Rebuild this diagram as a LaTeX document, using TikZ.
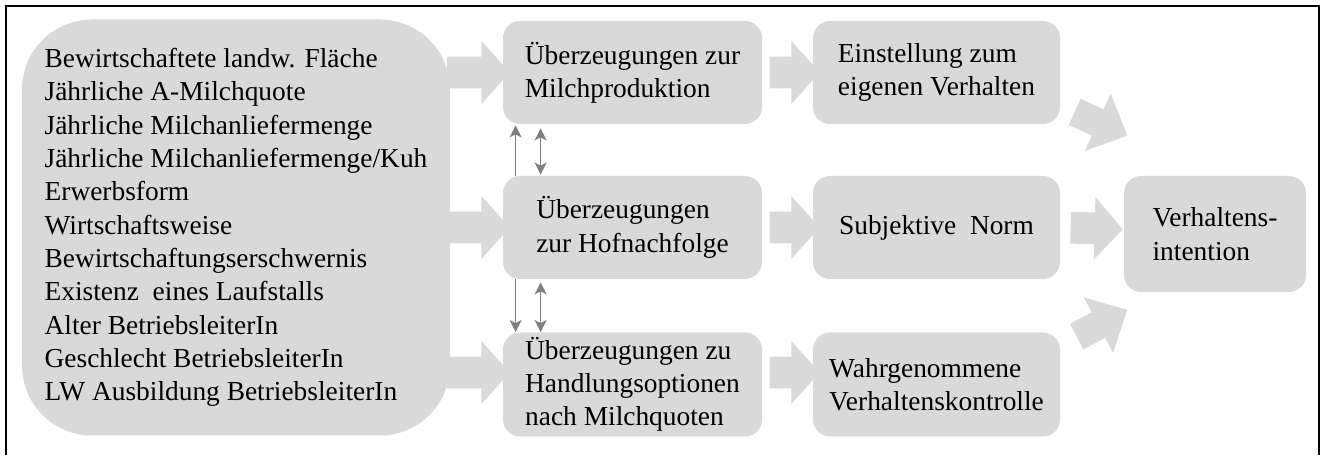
\documentclass[tikz,border=0pt]{standalone}
\usepackage{fontspec}
\setmainfont{Liberation Serif}
\usetikzlibrary{arrows.meta,shapes.arrows,calc}
\definecolor{boxgray}{HTML}{D9D9D9}
\definecolor{linkgray}{HTML}{808080}
\tikzset{
  box/.style={fill=boxgray, rounded corners=8.5pt, align=left, inner sep=0pt},
  lowered/.style={execute at begin node={\rule{0pt}{16pt}}},
  blockarrow/.style={shape=single arrow, fill=boxgray, inner xsep=0pt, inner ysep=7.75pt,
    minimum width=31pt, single arrow head extend=7.75pt, single arrow tip angle=96},
  fat/.style={to path={let \p1=(\tikztostart), \p2=(\tikztotarget),
    \n1={atan2(\y2-\y1,\x2-\x1)}, \n2={veclen(\x2-\x1,\y2-\y1)} in
    node[blockarrow, rotate=\n1, minimum height=\n2, #1] at ($(\p1)!0.5!(\p2)$) {}}},
  fat/.default={},
  link/.style={draw=linkgray, line width=0.75pt, -{Stealth[length=6pt,width=6pt,inset=1.5pt]}},
  twoway/.style={link, {Stealth[length=6pt,width=6pt,inset=1.5pt]}-{Stealth[length=6pt,width=6pt,inset=1.5pt]}}
}
\begin{document}
\begin{tikzpicture}[x=1pt, y=1pt, font=\fontsize{13.7}{16.65}\selectfont]
    \useasboundingbox (0,0) rectangle (661,227.5);
    \draw[line width=1pt] (3,0) -- (3,224.5) -- (659.5,224.5) -- (659.5,0);
    \node (m1) [box, lowered, minimum width=129.5pt, minimum height=51.5pt] at (316.25,191.25) {Überzeugungen zur\\Milchproduktion};
    \node (m2) [box, lowered, minimum width=129.5pt, minimum height=51.5pt, node distance=77.5pt, below of=m1] {Überzeugungen\\zur Hofnachfolge};
    \node (m3) [box, minimum width=129.5pt, minimum height=52pt, node distance=78.5pt, below of=m2] {Überzeugungen zu\\Handlungsoptionen\\nach Milchquoten};
    \node (r1) [box, lowered, minimum width=123.5pt, minimum height=51.5pt, node distance=152pt, right of=m1] {Einstellung zum\\eigenen Verhalten};
    \node (r2) [box, minimum width=123.5pt, minimum height=51.5pt, node distance=152pt, right of=m2] {Subjektive~~Norm};
    \node (r3) [box, lowered, minimum width=123.5pt, minimum height=52pt, node distance=152pt, right of=m3] {Wahrgenommene\\Verhaltenskontrolle};
    \node (f) [box, minimum width=91pt, minimum height=58pt, node distance=139.25pt, right of=r2, yshift=-3.25pt] {Verhaltens-\\intention};
    \node (big) [box, rounded corners=35pt, minimum width=214pt, minimum height=208pt, node distance=198.25pt, left of=m2] {Bewirtschaftete landw. Fläche\\Jährliche A-Milchquote\\Jährliche Milchanliefermenge\\Jährliche Milchanliefermenge/Kuh\\Erwerbsform\\Wirtschaftsweise\\Bewirtschaftungserschwernis\\Existenz~~eines Laufstalls\\Alter BetriebsleiterIn\\Geschlecht BetriebsleiterIn\\LW Ausbildung BetriebsleiterIn};
    \path ([xshift=-31.5pt]m1.west) edge[fat] (m1.west);
    \path ([xshift=-31.5pt]m2.west) edge[fat] (m2.west);
    \path ([xshift=-31.5pt,yshift=6pt]m3.west) edge[fat] ([yshift=6pt]m3.west);
    \path (m1.east) edge[fat] (r1.west);
    \path (m2.east) edge[fat] (r2.west);
    \path ([yshift=6pt]m3.east) edge[fat] ([yshift=6pt]r3.west);
    \path ([xshift=1.5pt]r2.east) edge[fat] ([xshift=-4pt,yshift=2.5pt]f.west);
    \path ([xshift=3.75pt,yshift=7.75pt]r1.south east) edge[fat={inner ysep=7pt, single arrow head extend=8.5pt, single arrow tip angle=88}] ([xshift=-1.5pt,yshift=21.5pt]f.north west);
    \path ([xshift=4.85pt,yshift=-4pt]r3.north east) edge[fat={inner ysep=7pt, single arrow head extend=8.5pt, single arrow tip angle=88}] ([xshift=-1.5pt,yshift=-10.5pt]f.south west);
    \draw[link] ([xshift=6.5pt]m2.north west) -- ([xshift=6.5pt,yshift=-0.5pt]m1.south west);
    \draw[twoway] ([xshift=19pt,yshift=0.5pt]m2.north west) -- ([xshift=19pt,yshift=-2pt]m1.south west);
    \draw[link] ([xshift=6.5pt]m2.south west) -- ([xshift=6.5pt]m3.north west);
    \draw[twoway] ([xshift=19pt,yshift=-1.5pt]m2.south west) -- ([xshift=19pt]m3.north west);
\end{tikzpicture}
\end{document}
